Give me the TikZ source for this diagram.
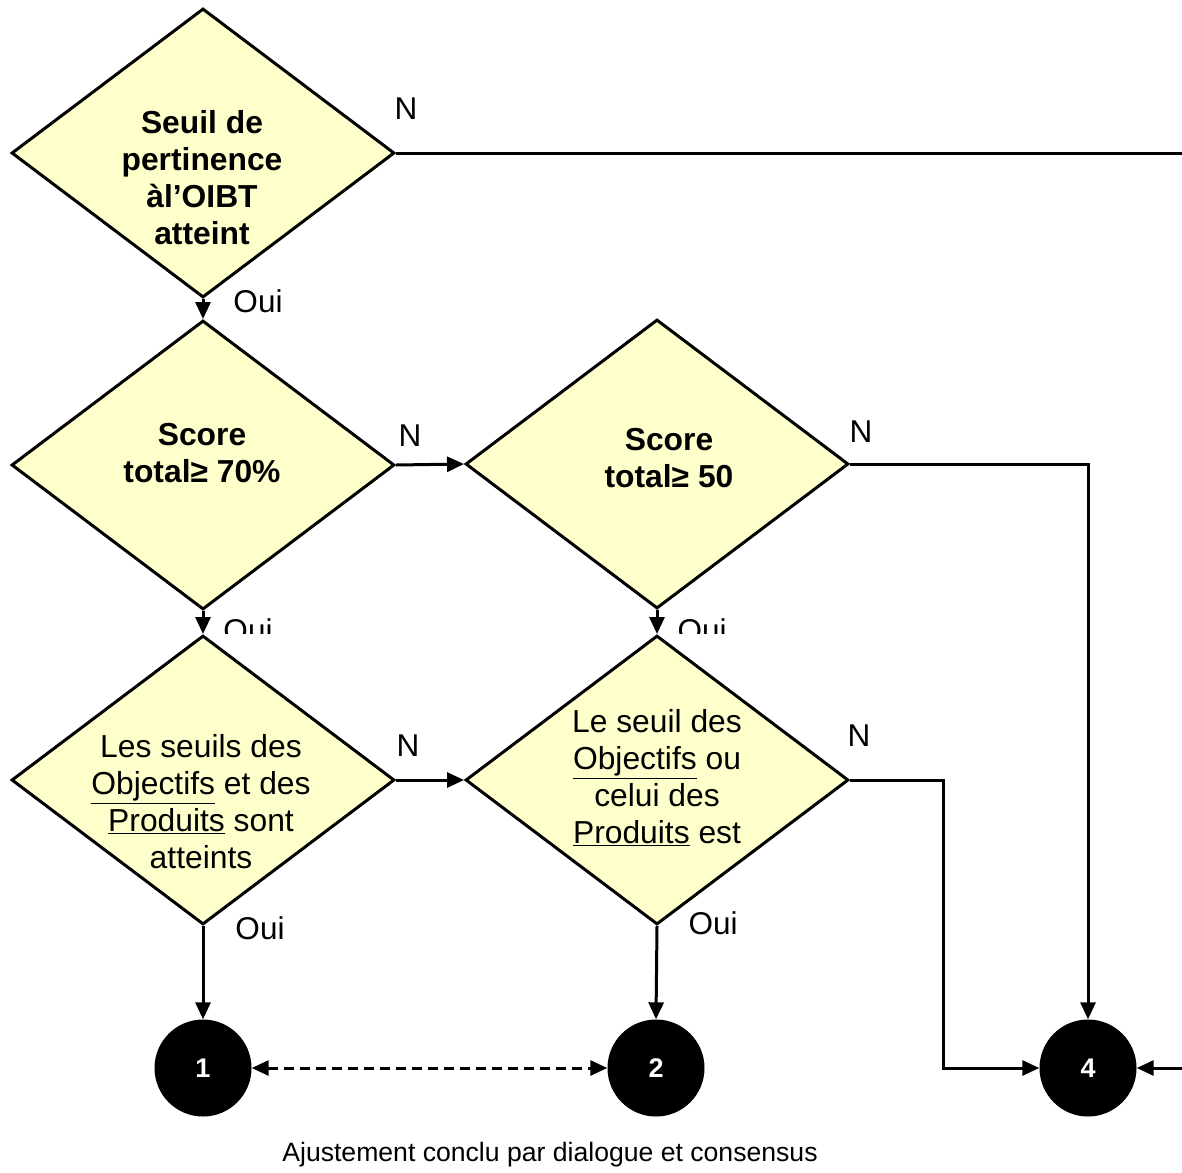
\documentclass[tikz,border=0pt]{standalone}
\usepackage{fontspec}
\setmainfont{Liberation Sans}
\usetikzlibrary{arrows.meta,shapes.geometric}
\definecolor{dfill}{RGB}{255,255,204}
\begin{document}
\begin{tikzpicture}[x=1pt,y=-1pt,
  dia/.style={draw,line width=3pt,fill=dfill,shape=diamond,minimum width=383pt,minimum height=289pt,inner sep=0pt},
  dtxt/.style={align=center,font=\fontsize{31.8}{37}\selectfont},
  btxt/.style={align=center,font=\fontsize{31.8}{37}\selectfont\bfseries},
  lbl/.style={font=\fontsize{31.5}{36}\selectfont},
  circ/.style={circle,fill=black,minimum size=97pt,inner sep=0pt,text=white,font=\fontsize{27}{30}\selectfont\bfseries},
  conn/.style={line width=3pt},
  arr/.style={line width=3pt,-{Triangle[length=17pt,width=15pt]}},
  darr/.style={line width=3pt,dash pattern=on 10pt off 6pt,{Triangle[length=17pt,width=15pt]}-{Triangle[length=17pt,width=15pt]}}]
\useasboundingbox[fill=white] (0,0) rectangle (1182,1172);
% diamonds
\node[dia] (d1) at (203,153) {};
\node[dia] (d2) at (203,465) {};
\node[dia] (d3) at (657,464) {};
\node[dia] (d4) at (203,780) {};
\node[dia] (d5) at (657,780) {};
% texts
\node[btxt] (t1) at (202,178) {Seuil de\\pertinence\\àl’OIBT\\atteint};
\node[btxt] (t2) at (202,453) {Score\\total≥ 70\%};
\node[btxt] (t3) at (669,458) {Score\\total≥ 50};
\node[dtxt] (t4) at (201,802) {Les seuils des\\\underline{Objectifs} et des\\\underline{Produits} sont\\atteints};
\node[dtxt] (t5) at (657,778) {Le seuil des\\\underline{Objectifs} ou\\celui des\\\underline{Produits} est};
% circles
\node[circ] (c1) at (203,1068) {1};
\node[circ] (c2) at (656,1068) {2};
\node[circ] (c4) at (1088,1068) {4};
\coordinate (r1) at (1182,153);
\coordinate (r2) at (1182,1068);
% connectors
\draw[conn] (d1.east) -- (r1);
\draw[arr] (d1.south) -- (d2.north);
\draw[arr] (d2.east) -- (d3.west);
\draw[arr] (d3.east) -| (c4.north);
\draw[arr] (d2.south) -- (d4.north);
\draw[arr] (d3.south) -- (d5.north);
\draw[arr] (d4.east) -- (d5.west);
\draw[arr] (d5.east) -- (943,780) |- (c4.west);
\draw[arr] (d4.south) -- (c1.north);
\draw[arr] (d5.south) -- (c2.north);
\draw[darr] (c1.east) -- (c2.west);
\draw[arr] (r2) -- (c4.east);
% labels
\node[lbl] (n1) at (406,109) {N};
\node[lbl] (o1) at (258,301) {Oui};
\node[lbl] (n2) at (410,436) {N};
\node[lbl] (n3) at (861,432) {N};
\node[lbl] (n4) at (408,746) {N};
\node[lbl] (n5) at (859,736) {N};
\node[lbl] (o4) at (260,928) {Oui};
\node[lbl] (o5) at (713,923) {Oui};
\begin{scope}
\clip (210,600) rectangle (320,633);
\node[lbl] (o2) at (248,630) {Oui};
\end{scope}
\begin{scope}
\clip (665,600) rectangle (770,633);
\node[lbl] (o3) at (702,630) {Oui};
\end{scope}
\node[font=\fontsize{26.6}{31}\selectfont] (cap) at (550,1155) {Ajustement conclu par dialogue et consensus};
\end{tikzpicture}
\end{document}
